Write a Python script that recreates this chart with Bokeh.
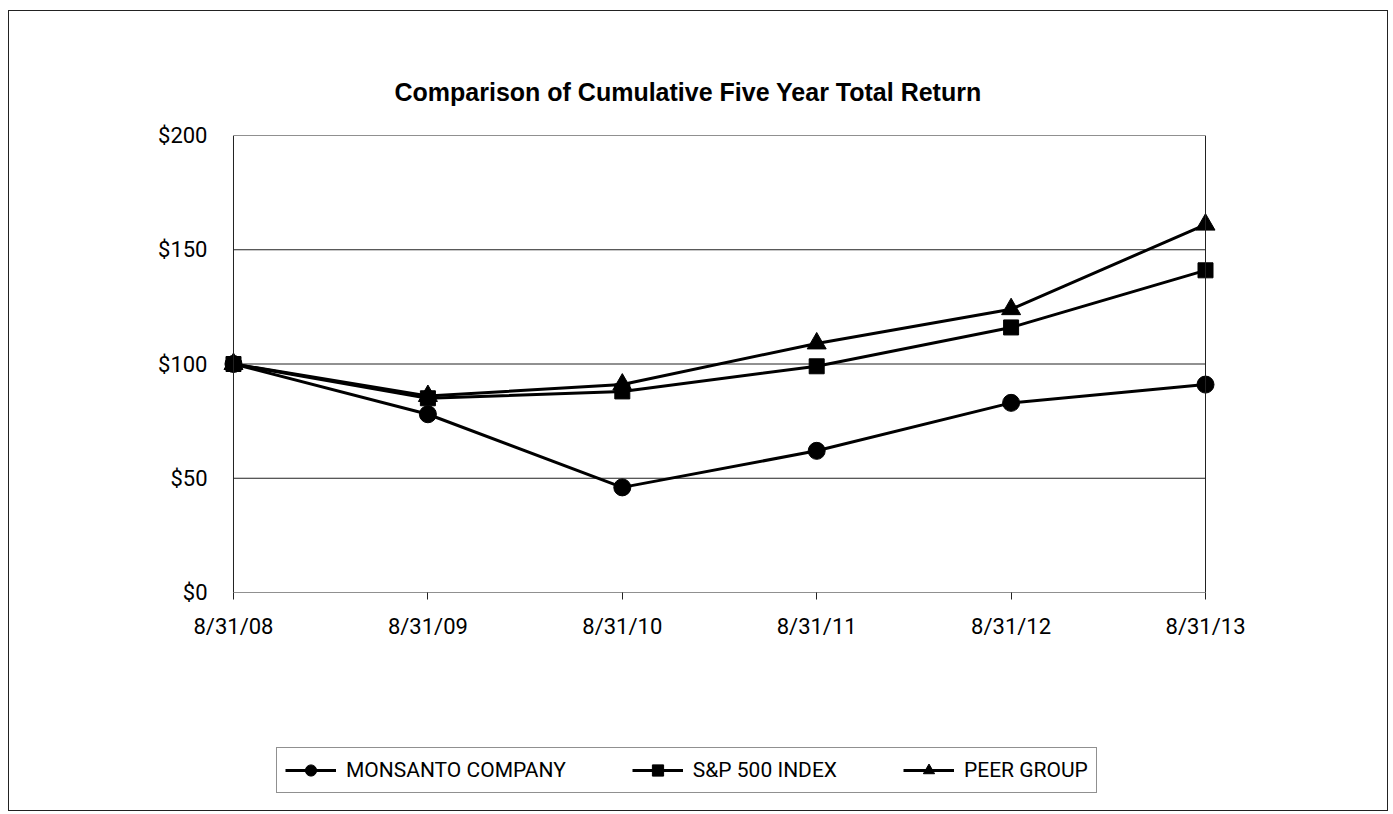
from bokeh.plotting import figure
from bokeh.models import FixedTicker, Legend, LegendItem, Span
from bokeh.layouts import column
from bokeh.embed import file_html
from bokeh.resources import INLINE

dates = ["8/31/08", "8/31/09", "8/31/10", "8/31/11", "8/31/12", "8/31/13"]
monsanto = [100, 78, 46, 62, 83, 91]
sp500 = [100, 85, 88, 99, 116, 141]
peer = [100, 86, 91, 109, 124, 161]
y_ticks = [0, 50, 100, 150, 200]
y_labels = ["$0", "$50", "$100", "$150", "$200"]
series_names = ["MONSANTO COMPANY", "S&P 500 INDEX", "PEER GROUP"]
markers = ["circle", "square", "triangle"]
marker_sizes = [17, 15, 19]

x = list(range(len(dates)))
COND = "Roboto"
W = 1378
PAD = 0.0617  # small range padding so edge markers are not clipped

p = figure(width=W, height=700, output_backend="svg", toolbar_location=None,
           x_range=(x[0] - PAD, x[-1] + PAD), y_range=(y_ticks[0], y_ticks[-1]),
           min_border_left=212, min_border_right=170, min_border_top=124, min_border_bottom=119,
           title="Comparison of Cumulative Five Year Total Return")
p.background_fill_color = "white"
p.border_fill_color = "white"
p.outline_line_color = None

p.title.text_font = "Liberation Sans"
p.title.text_font_style = "bold"
p.title.text_font_size = "25px"
p.title.text_color = "black"
p.title.align = "left"
p.title.offset = 173
p.title.standoff = 60

p.xgrid.visible = False
p.ygrid.visible = False

p.xaxis.ticker = FixedTicker(ticks=x)
p.xaxis.major_label_overrides = {i: d for i, d in enumerate(dates)}
p.yaxis.ticker = FixedTicker(ticks=y_ticks)
p.yaxis.major_label_overrides = {t: l for t, l in zip(y_ticks, y_labels)}
for ax in (p.xaxis, p.yaxis):
    ax.axis_line_color = None
    ax.major_label_text_font = COND
    ax.major_label_text_font_size = "22px"
    ax.major_label_text_color = "black"
    ax.minor_tick_line_color = None
p.xaxis.major_tick_line_color = "#222"
p.xaxis.major_tick_in = 0
p.xaxis.major_tick_out = 7
p.xaxis.major_label_standoff = 14
p.yaxis.major_tick_line_color = None
p.yaxis.major_label_standoff = 8

# horizontal gridlines / frame top & bottom, spanning the category extent
p.multi_line(xs=[[x[0], x[-1]] for _ in y_ticks], ys=[[t, t] for t in y_ticks],
             line_color="#222", line_width=1)
# left axis line and right frame line
p.add_layout(Span(location=x[0], dimension="height", line_color="#222", line_width=1))
p.add_layout(Span(location=x[-1], dimension="height", line_color="#222", line_width=1))

for vals, mk, ms in zip([monsanto, sp500, peer], markers, marker_sizes):
    p.line(x, vals, line_color="black", line_width=3)
    p.scatter(x, vals, marker=mk, size=ms, color="black")

# legend strip below the chart; its series are drawn outside the visible range
p2 = figure(width=W, height=99, output_backend="svg", toolbar_location=None,
            x_range=(-20, -19), y_range=(0, 1),
            min_border_left=0, min_border_right=0, min_border_top=0, min_border_bottom=0)
p2.xaxis.visible = False
p2.yaxis.visible = False
p2.xgrid.visible = False
p2.ygrid.visible = False
p2.outline_line_color = None
p2.background_fill_color = "white"
p2.border_fill_color = "white"

items = []
for name, vals, mk, ms in zip(series_names, [monsanto, sp500, peer], markers, marker_sizes):
    lr = p2.line(x, vals, line_color="black", line_width=3)
    sr = p2.scatter(x, vals, marker=mk, size=ms - 2, color="black")
    items.append(LegendItem(label=name, renderers=[lr, sr]))

legend = Legend(items=items, orientation="horizontal", location=(55, 17))
legend.label_text_font = COND
legend.label_text_font_size = "21px"
legend.label_text_color = "black"
legend.glyph_width = 51
legend.glyph_height = 28
legend.spacing = 66
legend.padding = 8
legend.margin = 0
legend.label_standoff = 10
legend.border_line_color = "#222"
legend.border_line_width = 1
legend.background_fill_alpha = 1
p2.add_layout(legend)

layout = column(p, p2, spacing=0,
                styles={"border": "1px solid #222", "margin-left": "8px", "margin-top": "10px"})

open("out.html", "w").write(file_html(layout, INLINE))
